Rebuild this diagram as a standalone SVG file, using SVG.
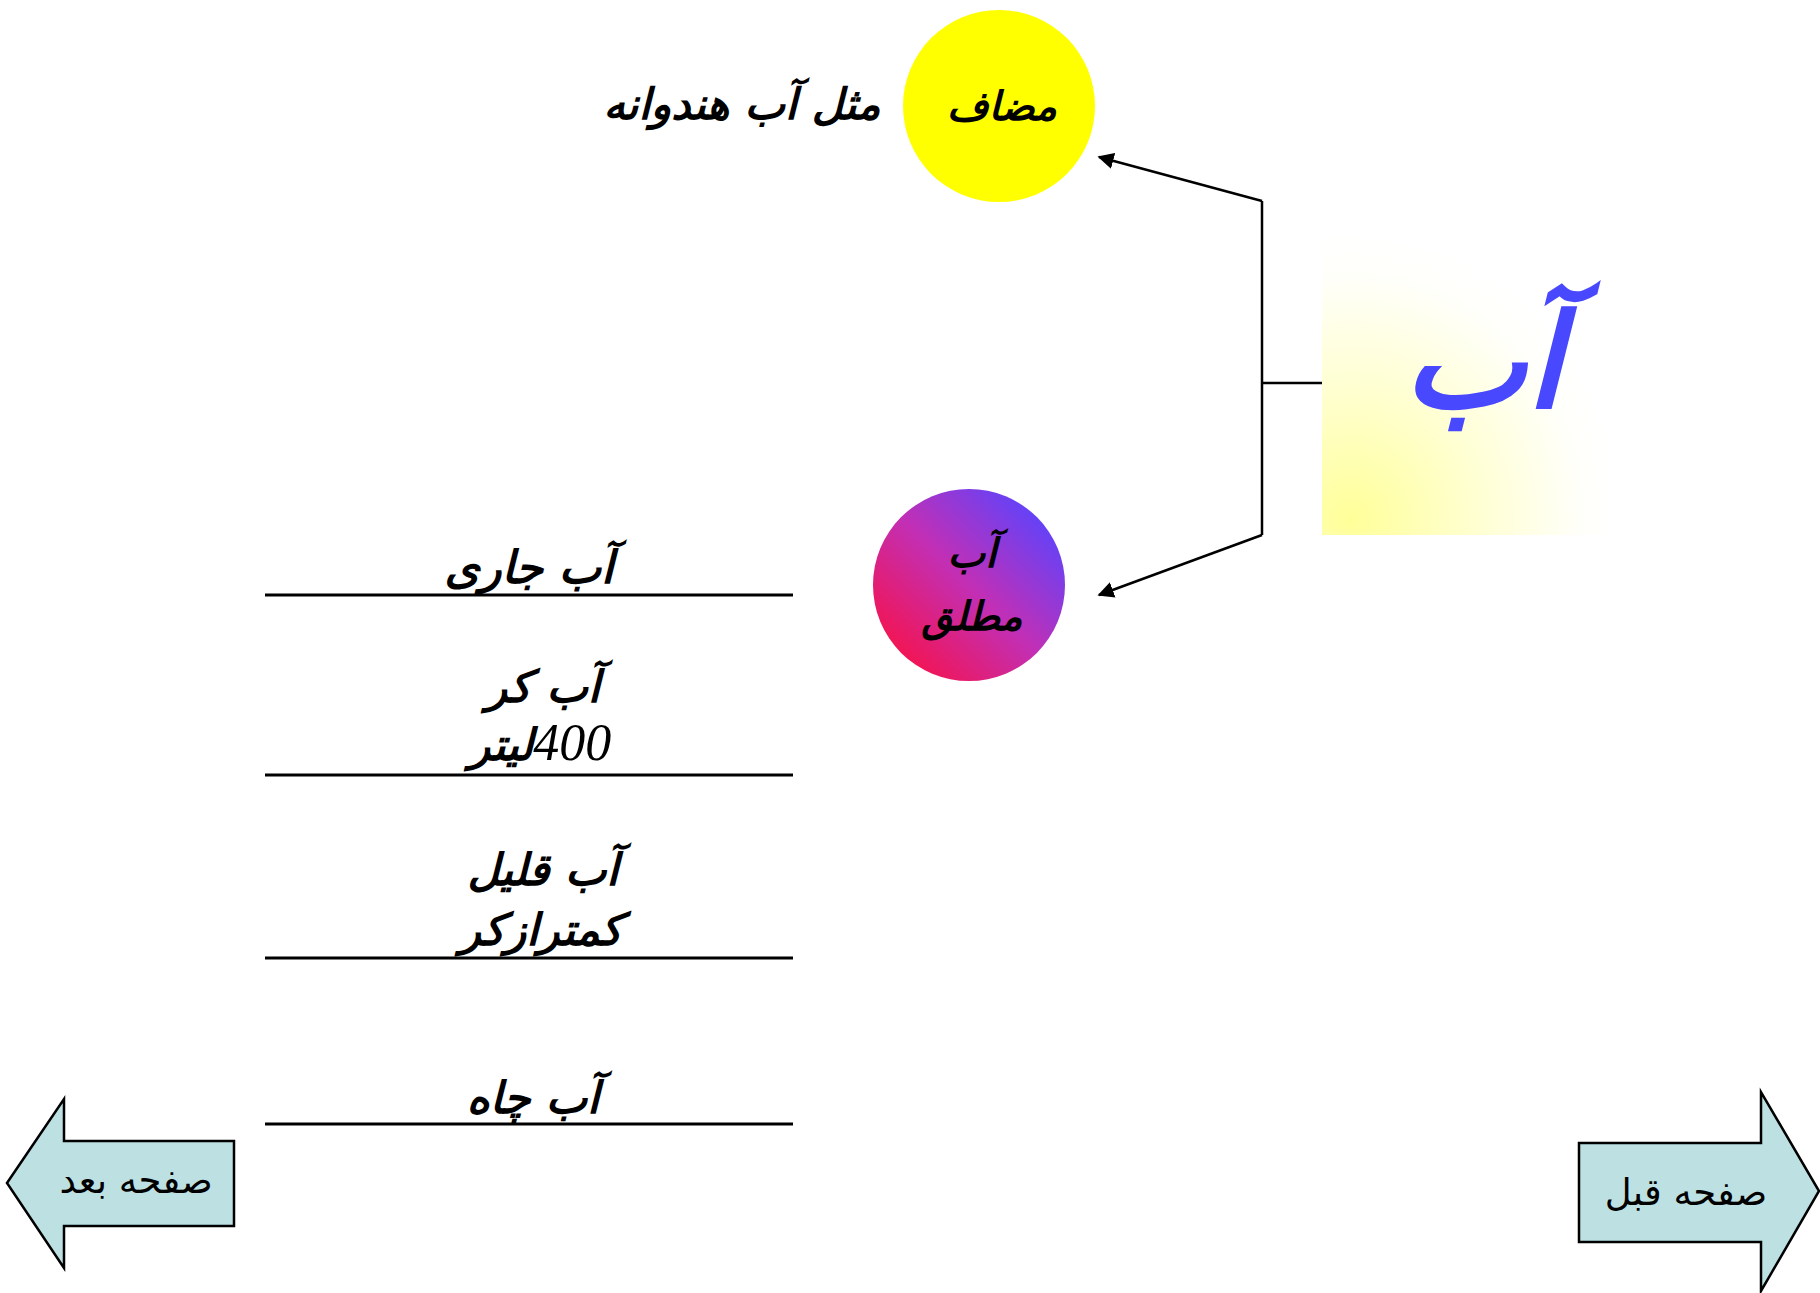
<svg xmlns="http://www.w3.org/2000/svg" width="1820" height="1293" viewBox="0 0 1820 1293">
<style>
  .fa { font-family: "DejaVu Sans", sans-serif; font-weight: bold; font-style: italic; fill: #000; }
  .nav { font-family: "DejaVu Sans", sans-serif; font-size: 37px; fill: #000; }
  .rule { stroke: #000; stroke-width: 3; }
  .conn { stroke: #000; stroke-width: 2.5; fill: none; }
  .navarrow { fill: #bde0e3; stroke: #000; stroke-width: 2.5; }
</style>
<defs>
  <marker id="ah" viewBox="0 0 10 10" refX="9" refY="5" markerWidth="6.5" markerHeight="6.5" orient="auto" markerUnits="strokeWidth">
    <path d="M0,0 L10,5 L0,10 z" fill="#000"/>
  </marker>
  <linearGradient id="gMutlaq" x1="0" y1="1" x2="1" y2="0">
    <stop offset="0.1" stop-color="#f7124a"/>
    <stop offset="0.5" stop-color="#c22fb5"/>
    <stop offset="0.9" stop-color="#5a44ff"/>
  </linearGradient>
  <radialGradient id="gAb" cx="0.1" cy="0.95" r="0.95" fx="0.1" fy="0.95">
    <stop offset="0" stop-color="#ffff99"/>
    <stop offset="0.45" stop-color="#ffffd0"/>
    <stop offset="0.85" stop-color="#fffffa"/>
    <stop offset="1" stop-color="#ffffff"/>
  </radialGradient>
</defs>

<g id="connectors">
  <polyline class="conn" points="1262,201 1262,535"/>
  <line class="conn" x1="1262" y1="383" x2="1322" y2="383"/>
  <line class="conn" x1="1262" y1="201" x2="1099" y2="157" marker-end="url(#ah)"/>
  <line class="conn" x1="1262" y1="535" x2="1099" y2="595" marker-end="url(#ah)"/>
</g>

<g id="node-ab">
  <rect x="1322" y="233" width="285" height="302" fill="url(#gAb)"/>
  <text x="1483" y="407" text-anchor="middle" font-family="DejaVu Sans, sans-serif" font-style="italic" font-weight="bold" font-size="130" fill="#4848ff">آب</text>
</g>

<g id="node-mozaf">
  <circle cx="999" cy="106" r="96" fill="#ffff00"/>
  <text class="fa" x="1002" y="120" text-anchor="middle" font-size="40">مضاف</text>
</g>

<g id="label-mesal">
  <text class="fa" x="742" y="119" text-anchor="middle" font-size="43">مثل آب هندوانه</text>
</g>

<g id="node-mutlaq">
  <circle cx="969" cy="585" r="96" fill="url(#gMutlaq)"/>
  <text class="fa" x="972" y="567" text-anchor="middle" font-size="40">آب</text>
  <text class="fa" x="972" y="630" text-anchor="middle" font-size="40">مطلق</text>
</g>

<g id="item-jari">
  <text class="fa" x="529" y="583" text-anchor="middle" font-size="45">آب جاری</text>
  <line class="rule" x1="265" y1="595" x2="793" y2="595"/>
</g>

<g id="item-kor">
  <text class="fa" x="543" y="702" text-anchor="middle" font-size="44">آب کر</text>
  <text class="fa" x="540" y="760" text-anchor="middle" font-size="44" direction="rtl"><tspan font-family="Liberation Serif, serif" font-weight="normal" font-size="52">400</tspan>لیتر</text>
  <line class="rule" x1="265" y1="775" x2="793" y2="775"/>
</g>

<g id="item-qalil">
  <text class="fa" x="543" y="885" text-anchor="middle" font-size="44">آب قلیل</text>
  <text class="fa" x="541" y="945" text-anchor="middle" font-size="44">کمترازکر</text>
  <line class="rule" x1="265" y1="958" x2="793" y2="958"/>
</g>

<g id="item-chah">
  <text class="fa" x="533" y="1113" text-anchor="middle" font-size="44">آب چاه</text>
  <line class="rule" x1="265" y1="1124" x2="793" y2="1124"/>
</g>

<g id="nav-next">
  <polygon class="navarrow" points="7,1183 64,1099 64,1141 234,1141 234,1226 64,1226 64,1268"/>
  <text class="nav" x="136" y="1193" text-anchor="middle">صفحه بعد</text>
</g>

<g id="nav-prev">
  <polygon class="navarrow" points="1579,1143 1761,1143 1761,1092 1819,1191 1761,1291 1761,1242 1579,1242"/>
  <text class="nav" x="1686" y="1205" text-anchor="middle">صفحه قبل</text>
</g>
</svg>
